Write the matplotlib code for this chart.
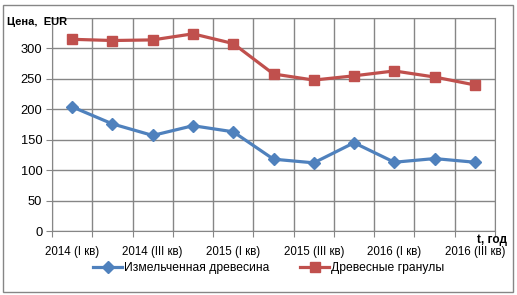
import matplotlib
matplotlib.use("Agg")
import matplotlib.pyplot as plt
from matplotlib.patches import Rectangle

# ── данные ──────────────────────────────────────────────
quarters = ["2014 (I кв)", "2014 (II кв)", "2014 (III кв)", "2014 (IV кв)",
            "2015 (I кв)", "2015 (II кв)", "2015 (III кв)", "2015 (IV кв)",
            "2016 (I кв)", "2016 (II кв)", "2016 (III кв)"]
chips = [204, 176, 157, 173, 163, 118, 112, 145, 113, 119, 113]
pellets = [315, 313, 314, 324, 308, 258, 248, 255, 263, 253, 240]
y_ticks = [0, 50, 100, 150, 200, 250, 300, 350]

BLUE = "#4F81BD"
RED = "#C0504D"
GRID = "#868686"

plt.rcParams["font.family"] = ["Liberation Sans", "DejaVu Sans"]

W, H = 517, 295
fig = plt.figure(figsize=(W / 100, H / 100), dpi=100)
ax = fig.add_axes([52 / W, 1 - 231 / H, (495 - 52) / W, (231 - 18) / H])

x = list(range(len(quarters)))
ax.plot(x, chips, color=BLUE, lw=2.3, marker="D", markersize=6,
        label="Измельченная древесина", zorder=3)
ax.plot(x, pellets, color=RED, lw=2.3, marker="s", markersize=7,
        label="Древесные гранулы", zorder=3)

ax.set_xlim(-0.5, len(quarters) - 0.5)
ax.set_ylim(0, 350)

# сетка по границам категорий
ax.set_xticks([i - 0.5 for i in range(len(quarters) + 1)])
ax.set_xticklabels([])
ax.set_xticks(x[::2], minor=True)
ax.set_xticklabels(quarters[::2], minor=True, fontsize=8.3)
ax.tick_params(axis="x", which="major", length=4, color=GRID, direction="out")
ax.tick_params(axis="x", which="minor", length=0, pad=11)

ax.set_yticks(y_ticks)
ax.set_yticklabels([str(v) if v < 350 else "" for v in y_ticks], fontsize=9.3)
ax.tick_params(axis="y", length=4, color=GRID, pad=3)

ax.grid(True, which="major", color=GRID, lw=1)
ax.set_axisbelow(True)
for s in ax.spines.values():
    s.set_color(GRID)

fig.text(7 / W, 1 - 22 / H, "Цена,  EUR", fontsize=8, fontweight="bold",
         va="center", ha="left")
fig.text(507 / W, 1 - 240 / H, "t, год", fontsize=8.5, fontweight="bold",
         va="center", ha="right")

fig.legend(loc="center", bbox_to_anchor=(0.52, 1 - 268 / H), ncol=2,
           frameon=False, fontsize=8.7, handlelength=2.4, columnspacing=2.5,
           handletextpad=0.2)

fig.patches.append(Rectangle((3 / W, 3 / H), (513 - 3) / W, (291 - 4) / H,
                             transform=fig.transFigure, fill=False,
                             edgecolor=GRID, lw=1))

fig.savefig("out.png", dpi=100)
